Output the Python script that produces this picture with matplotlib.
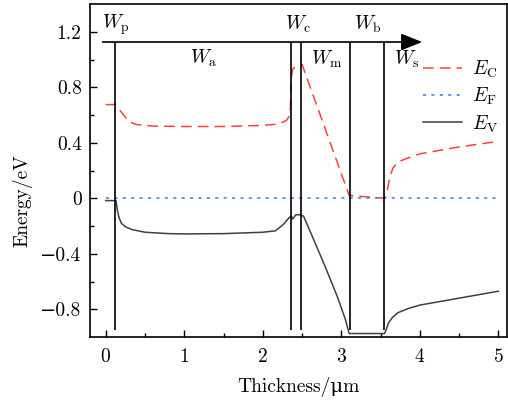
import matplotlib
matplotlib.use("Agg")
import matplotlib.pyplot as plt
import numpy as np

plt.rcParams['font.family'] = ['cmr10', 'DejaVu Serif']
plt.rcParams['mathtext.fontset'] = 'cm'
plt.rcParams['axes.formatter.use_mathtext'] = True
plt.rcParams['axes.unicode_minus'] = True

# Conduction band E_C
ec_x = [0, 0.12, 0.2, 0.3, 0.4, 0.6, 1.0, 1.5, 2.0, 2.2, 2.3, 2.35, 2.36, 2.38, 2.42, 2.5,
        3.1, 3.55, 3.58, 3.62, 3.66, 3.72, 3.8, 4.0, 4.5, 5.0]
ec_y = [0.675, 0.675, 0.62, 0.55, 0.53, 0.52, 0.517, 0.517, 0.525, 0.535, 0.56, 0.6, 0.85, 0.93, 0.95, 0.965,
        0.02, 0.0, 0.04, 0.16, 0.22, 0.26, 0.28, 0.32, 0.37, 0.41]

# Fermi level E_F
ef_x = [0, 5.0]
ef_y = [0, 0]

# Valence band E_V
ev_x = [0, 0.13, 0.15, 0.17, 0.2, 0.25, 0.33, 0.5, 0.8, 1.0, 1.5, 2.0, 2.16, 2.26, 2.34, 2.365, 2.38,
        2.42, 2.47, 2.52, 2.65, 2.8, 2.95, 3.05, 3.1, 3.55, 3.57, 3.6, 3.65, 3.72, 3.85, 4.0, 4.5, 5.0]
ev_y = [-0.017, -0.017, -0.09, -0.14, -0.18, -0.205, -0.225, -0.245, -0.255, -0.257, -0.255, -0.245, -0.235,
        -0.19, -0.137, -0.13, -0.15, -0.12, -0.118, -0.13, -0.3, -0.5, -0.71, -0.87, -0.975, -0.975,
        -0.95, -0.9, -0.86, -0.825, -0.795, -0.77, -0.72, -0.67]

# Region boundaries and labels
bounds = [0.12, 2.365, 2.49, 3.11, 3.55]
bound_bottom = -0.95
arrow_y = 1.126
arrow_start = -0.04
arrow_end = 4.03
region_labels = [r'$W_{\rm p}$', r'$W_{\rm a}$', r'$W_{\rm c}$', r'$W_{\rm m}$', r'$W_{\rm b}$', r'$W_{\rm s}$']
region_lx = [0.13, 1.24, 2.45, 2.82, 3.33, 3.83]
region_ly = [1.25, 1.01, 1.25, 1.0, 1.25, 1.0]

xticks = [0, 1, 2, 3, 4, 5]
yticks = [-0.8, -0.4, 0, 0.4, 0.8, 1.2]
ytick_labels = ['\u22120.8', '\u22120.4', '0', '0.4', '0.8', '1.2']

fig = plt.figure(figsize=(5.08, 4.01), dpi=100)
ax = fig.add_axes([90/508, 1-337/401, 417/508, 333/401])

fs = 14
ax.plot(ec_x, ec_y, color='#ff4040', lw=1.1, dashes=(7, 4), label=r'$E_{\rm C}$')
ax.plot(ef_x, ef_y, color='#2f7bff', lw=1.1, dashes=(2, 3.5), label=r'$E_{\rm F}$')
ax.plot(ev_x, ev_y, color='#404040', lw=1.1, label=r'$E_{\rm V}$')

ax.vlines(bounds, bound_bottom, arrow_y, color='black', lw=1.2)
ax.annotate('', xy=(arrow_end, arrow_y), xytext=(arrow_start, arrow_y),
            arrowprops=dict(arrowstyle='-|>,head_length=1.0,head_width=0.4', color='black',
                            lw=1.2, shrinkA=0, shrinkB=0, mutation_scale=13))
for lab, lx, ly in zip(region_labels, region_lx, region_ly):
    ax.text(lx, ly, lab, ha='center', va='center', fontsize=fs)

ax.set_xlim(-0.2, 5.11)
ax.set_ylim(-1.0, 1.40)
ax.set_xticks(xticks)
ax.set_xticks(np.arange(-0.0, 5.01, 0.5), minor=True)
ax.set_yticks(yticks)
ax.set_yticklabels(ytick_labels)
ax.set_yticks(np.arange(-0.8, 1.21, 0.2), minor=True)
ax.tick_params(which='both', direction='in', labelsize=fs, width=1.0)
ax.tick_params(which='major', length=5)
ax.tick_params(which='minor', length=3)
ax.tick_params(axis='x', which='major', pad=8)
ax.tick_params(axis='y', which='major', pad=6)
for s in ax.spines.values():
    s.set_linewidth(1.2)

ax.set_xlabel('Thickness/\u03bcm', fontsize=fs)
ax.set_ylabel('Energy/eV', fontsize=fs)
ax.yaxis.set_label_coords(-0.137, 0.41)
ax.xaxis.set_label_coords(0.5, -0.12)

leg = ax.legend(loc='upper left', bbox_to_anchor=(0.799, 0.835), frameon=False, fontsize=fs,
                borderaxespad=0, borderpad=0, handlelength=2.0, handletextpad=0.5, labelspacing=0.3)

fig.savefig('out.png', dpi=100)
